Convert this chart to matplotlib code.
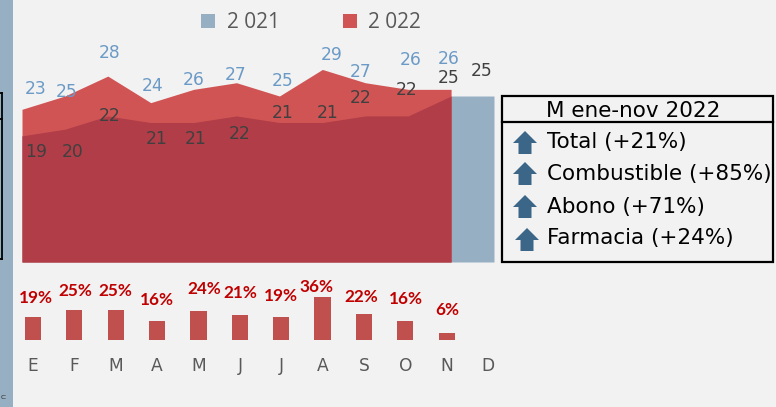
import numpy as np
import matplotlib
matplotlib.use("Agg")
import matplotlib.pyplot as plt
from matplotlib.patches import Rectangle, Polygon

# ---------------- data ----------------
months = ["E", "F", "M", "A", "M", "J", "J", "A", "S", "O", "N", "D"]
series_names = ["2 021", "2 022"]
values_2021 = [19, 20, 22, 21, 21, 22, 21, 21, 22, 22, 25, 25]
values_2022 = [23, 25, 28, 24, 26, 27, 25, 29, 27, 26, 26]
growth_pct = [19, 25, 25, 16, 24, 21, 19, 36, 22, 16, 6]
box_title = "M ene-nov 2022"
box_names = ["Total", "Combustible", "Abono", "Farmacia"]
box_pct = [21, 85, 71, 24]

# ---------------- style ----------------
BG = "#F2F2F2"
BLUEGRAY = "#97AFC3"
RED_LIGHT = "#D15454"
RED_DARK = "#B03D47"
BAR_RED = "#C0504D"
LABEL_BLUE = "#6B9AC6"
LABEL_DARK = "#404040"
PCT_RED = "#C00000"
ARROW = "#3B6688"

W, H = 776, 407
fig = plt.figure(figsize=(W / 100, H / 100), dpi=100, facecolor=BG)


def fig_rect(x0, y0, x1, y1):
    """pixel box (top-left origin) -> figure fraction rect"""
    return [x0 / W, (H - y1) / H, (x1 - x0) / W, (y1 - y0) / H]


# ---------------- area chart ----------------
px_per_unit = 6.64
ax = fig.add_axes(fig_rect(22, 0, 494, 262))
ax.set_facecolor("none")
ax.set_xlim(0, 11)
ax.set_ylim(0, 262 / px_per_unit)
ax.axis("off")

x21 = np.arange(len(values_2021))
x22 = np.arange(len(values_2022))
v21 = np.array(values_2021, dtype=float)
v22 = np.array(values_2022, dtype=float)

ax.fill_between(x21, 0, v21, color=BLUEGRAY, lw=0, zorder=1)
ax.fill_between(x22, 0, v22, color=RED_LIGHT, lw=0, zorder=2)
ax.fill_between(x22, 0, np.minimum(v21[: len(v22)], v22), color=RED_DARK, lw=0, zorder=3)

off22 = [(14, 20), (2, 4), (2, 23), (2, 17), (0, 9), (-1, 8), (3, 15), (9, 14),
         (-5, 11), (3, 29), (-2, 30)]
off21 = [(14, -16), (8, -23), (2, 0), (6, -16), (2, -16), (3, -18), (3, 10), (5, 10),
         (-5, 18), (-2, 26), (-2, 18), (-12, 25)]
for i, v in enumerate(values_2022):
    ax.annotate(f"{v}", (x22[i], v), xytext=off22[i], textcoords="offset pixels",
                ha="center", va="center", fontsize=12.3, color=LABEL_BLUE,
                annotation_clip=False, zorder=5)
for i, v in enumerate(values_2021):
    ax.annotate(f"{v}", (x21[i], v), xytext=off21[i], textcoords="offset pixels",
                ha="center", va="center", fontsize=12.3, color=LABEL_DARK,
                annotation_clip=False, zorder=5)

# ---------------- bar chart ----------------
bar_px_per_pct = 1.19
bx = fig.add_axes(fig_rect(12.3, 280, 508.7, 340))
bx.set_facecolor("none")
bx.set_xlim(-0.5, 11.5)
bx.set_ylim(0, 60 / bar_px_per_pct)
for s in bx.spines.values():
    s.set_visible(False)
bx.set_yticks([])
bx.set_xticks(np.arange(len(months)))
bx.set_xticklabels(months, fontsize=12.3, color="#595959")
bx.tick_params(axis="x", length=0, pad=12)

xb = np.arange(len(growth_pct))
bx.bar(xb, growth_pct, width=0.39, color=BAR_RED, lw=0)
offp = [(3, 19), (1, 19), (0, 19), (0, 21), (6, 22), (0, 22), (0, 21), (-6, 10),
        (-3, 17), (1, 22), (1, 23)]
for i, p in enumerate(growth_pct):
    bx.annotate(f"{p}%", (xb[i], p), xytext=offp[i], textcoords="offset pixels",
                ha="center", va="center", fontsize=12.3, fontweight="bold",
                family="Lato", color=PCT_RED, annotation_clip=False)

# ---------------- overlay (decorations) ----------------
ov = fig.add_axes([0, 0, 1, 1], zorder=10)
ov.set_xlim(0, W)
ov.set_ylim(H, 0)
ov.axis("off")
ov.patch.set_visible(False)

# left strip and partial box
ov.add_patch(Rectangle((0, 0), 13, H, color=BLUEGRAY, lw=0))
ov.plot([2, 2], [93, 259], color="black", lw=1.3)
ov.plot([-1, 2], [93, 93], color="black", lw=1.3)
ov.plot([-1, 2], [119, 119], color="black", lw=1.3)
ov.plot([-1, 2], [259, 259], color="black", lw=1.3)
ov.text(1, 397, "c:", fontsize=5, color="#333333", va="center", ha="left")

# legend
ov.add_patch(Rectangle((201, 14), 14, 14, color=BLUEGRAY, lw=0))
ov.text(227, 28, series_names[0], family="Open Sans", fontsize=15,
        color="#595959", va="baseline", ha="left")
ov.add_patch(Rectangle((343, 14), 14, 14, color=RED_LIGHT, lw=0))
ov.text(368, 28, series_names[1], family="Open Sans", fontsize=15,
        color="#595959", va="baseline", ha="left")

# right box
ov.add_patch(Rectangle((502, 96), 271, 166, fill=False, ec="black", lw=1.6))
ov.plot([502, 773], [122, 122], color="black", lw=1.6)
ov.text(633, 116.7, box_title, fontsize=15.5, ha="center", va="baseline", color="black")

baselines = [148, 180, 212.5, 244]
arrow_tops = [131, 162, 195, 228]
arrow_cx = [525, 525, 525, 527]
for name, pct, yb, yt, cx in zip(box_names, box_pct, baselines, arrow_tops, arrow_cx):
    ov.text(547, yb, f"{name} (+{pct}%)", fontsize=15.5, ha="left",
            va="baseline", color="black", clip_on=False)
    pts = [(cx, yt), (cx + 12, yt + 12), (cx + 6.5, yt + 12), (cx + 6.5, yt + 23),
           (cx - 6.5, yt + 23), (cx - 6.5, yt + 12), (cx - 12, yt + 12)]
    ov.add_patch(Polygon(pts, closed=True, color=ARROW, lw=0))

fig.savefig("out.png", dpi=100, facecolor=BG)
